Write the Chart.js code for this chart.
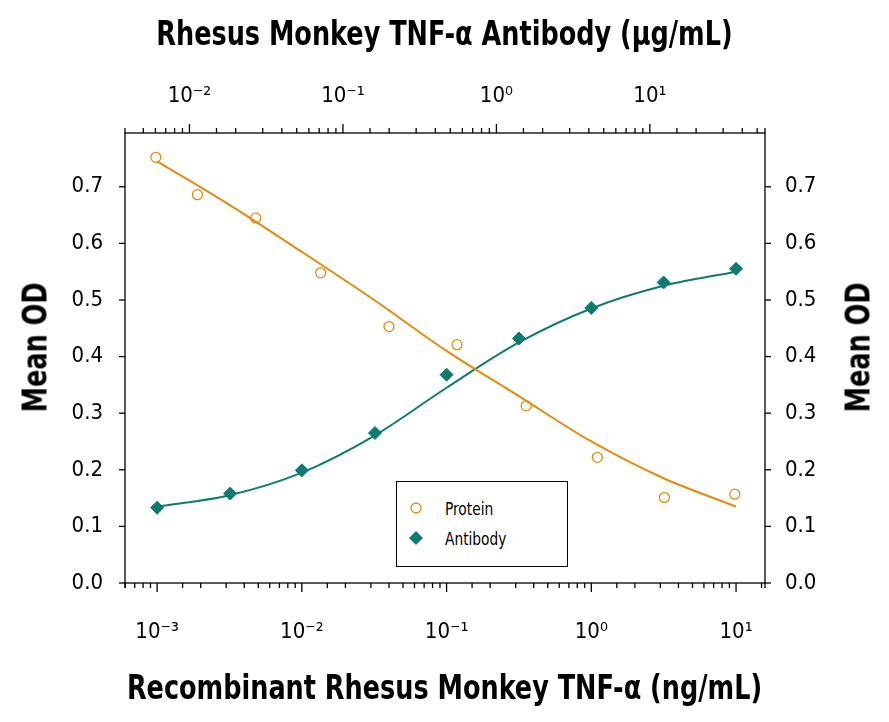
<!DOCTYPE html>
<html><head><meta charset="utf-8">
<script src="https://cdn.jsdelivr.net/npm/chart.js@4.4.1/dist/chart.umd.min.js"></script>
<style>
body{margin:0;background:#fff;width:889px;height:722px;overflow:hidden;position:relative;font-family:"Liberation Sans Narrow","DejaVu Sans Condensed",sans-serif;font-stretch:condensed}
#c{position:absolute;left:0;top:0}
.t{position:absolute;font-weight:bold;font-size:33px;color:#000;white-space:nowrap}
.leg{position:absolute;left:396px;top:481px;width:170px;height:84px;border:1px solid #000;background:#fff;font-size:18px}
.leg div{position:absolute;left:48px;transform:scaleX(0.85);transform-origin:left center}
</style></head><body>
<canvas id="c" width="889" height="722"></canvas>
<div class="t" style="left:0;width:889px;text-align:center;top:14px;transform:scaleX(0.86)">Rhesus Monkey TNF-α Antibody (μg/mL)</div>
<div class="t" style="left:0;width:889px;text-align:center;top:668px;transform:scaleX(0.86)">Recombinant Rhesus Monkey TNF-α (ng/mL)</div>
<div class="t" style="left:-30px;top:337px;transform:rotate(-90deg) scaleX(0.86);width:130px;text-align:center">Mean OD</div>
<div class="t" style="left:793px;top:337px;transform:rotate(-90deg) scaleX(0.86);width:130px;text-align:center">Mean OD</div>
<div class="leg">
<svg style="position:absolute;left:12px;top:19px" width="14" height="14"><circle cx="7" cy="7" r="5" fill="none" stroke="#E8890C" stroke-width="1.3"/></svg>
<div style="top:16px">Protein</div>
<svg style="position:absolute;left:11px;top:48px" width="16" height="16"><polygon points="8,1 15,8 8,15 1,8" fill="#0E7B73"/></svg>
<div style="top:46px">Antibody</div>
</div>
<script>
const proteinX=[0.00098,0.0019,0.0048,0.0135,0.04,0.118,0.355,1.1,3.2,9.8];
const proteinY=[0.752,0.686,0.645,0.548,0.453,0.421,0.313,0.222,0.151,0.157];
const antibodyX=[0.001,0.0032,0.01,0.032,0.1,0.316,1,3.16,10];
const antibodyY=[0.133,0.158,0.199,0.265,0.368,0.432,0.486,0.531,0.555];
const proteinFitX=[0.001,0.00316,0.01,0.0316,0.1,0.316,1,3.16,10];
const proteinFitY=[0.745,0.668,0.585,0.50,0.41,0.33,0.25,0.185,0.135];
const antibodyFitX=[0.001,0.00316,0.01,0.0316,0.1,0.316,1,3.16,10];
const antibodyFitY=[0.135,0.155,0.195,0.26,0.345,0.425,0.485,0.525,0.55];
const yTicks=[0,0.1,0.2,0.3,0.4,0.5,0.6,0.7];
const ORANGE='#E8890C',TEAL='#0E7B73';
const pts=(xs,ys)=>xs.map((x,i)=>({x,y:ys[i]}));
const FONT='"Liberation Sans Narrow","DejaVu Sans Condensed",sans-serif';
const sup={'-':'⁻','0':'⁰','1':'¹','2':'²','3':'³'};
const powLabel=(v)=>{const l=Math.log10(v);if(Math.abs(l-Math.round(l))>1e-6)return '';return '10'+String(Math.round(l)).split('').map(c=>sup[c]).join('');};
const tickPlugin={id:'tk',afterDraw(ch){const c=ch.ctx,a=ch.chartArea;c.save();c.strokeStyle='#000';c.lineWidth=1.3;
 c.strokeRect(a.left,a.top,a.right-a.left,a.bottom-a.top);
 ['x','x2'].forEach(id=>{const s=ch.scales[id];s.ticks.forEach(t=>{const l=Math.log10(t.value);const maj=Math.abs(l-Math.round(l))<1e-6;const len=maj?9:5;const p=s.getPixelForValue(t.value);c.beginPath();if(id==='x'){c.moveTo(p,a.bottom);c.lineTo(p,a.bottom+len);}else{c.moveTo(p,a.top);c.lineTo(p,a.top-len);}c.stroke();});});
 ['y','y2'].forEach(id=>{const s=ch.scales[id];yTicks.forEach(v=>{const p=s.getPixelForValue(v);c.beginPath();if(id==='y'){c.moveTo(a.left,p);c.lineTo(a.left-6,p);}else{c.moveTo(a.right,p);c.lineTo(a.right+6,p);}c.stroke();});});
 c.restore();}};
new Chart(document.getElementById('c'),{
 type:'scatter',
 data:{datasets:[
  {data:pts(proteinFitX,proteinFitY),showLine:true,pointRadius:0,borderColor:ORANGE,borderWidth:2,cubicInterpolationMode:'monotone',fill:false},
  {data:pts(antibodyFitX,antibodyFitY),showLine:true,pointRadius:0,borderColor:TEAL,borderWidth:2,cubicInterpolationMode:'monotone',fill:false},
  {data:pts(proteinX,proteinY),pointStyle:'circle',pointRadius:5,borderColor:ORANGE,backgroundColor:'rgba(0,0,0,0)',borderWidth:1.3},
  {data:pts(antibodyX,antibodyY),pointStyle:'rectRot',pointRadius:6.5,borderColor:TEAL,backgroundColor:TEAL}
 ]},
 options:{responsive:false,animation:false,layout:{padding:0},
  plugins:{legend:{display:false},tooltip:{enabled:false}},
  scales:{
   x:{type:'logarithmic',position:'bottom',min:Math.pow(10,-3.22),max:Math.pow(10,1.2),grid:{display:false},border:{display:false},
      ticks:{autoSkip:false,maxRotation:0,padding:28,color:'#000',font:{family:FONT,size:22},callback:(v)=>{const l=Math.log10(v);return (l>=-3.01&&l<=1.01)?powLabel(v):'';}},
      afterFit:s=>{s.height=139;}},
   x2:{type:'logarithmic',position:'top',min:Math.pow(10,-2.42),max:Math.pow(10,1.75),grid:{display:false},border:{display:false},
      ticks:{autoSkip:false,maxRotation:0,padding:16,color:'#000',font:{family:FONT,size:22},callback:(v)=>powLabel(v)},
      afterFit:s=>{s.height=133;}},
   y:{position:'left',min:0,max:0.795,grid:{display:false},border:{display:false},
      afterBuildTicks:s=>{s.ticks=yTicks.map(v=>({value:v}));},
      ticks:{padding:14,color:'#000',font:{family:FONT,size:22},callback:v=>v.toFixed(1)},
      afterFit:s=>{s.width=125;}},
   y2:{position:'right',min:0,max:0.795,grid:{display:false},border:{display:false},
      afterBuildTicks:s=>{s.ticks=yTicks.map(v=>({value:v}));},
      ticks:{padding:12,color:'#000',font:{family:FONT,size:22},callback:v=>v.toFixed(1)},
      afterFit:s=>{s.width=124;}}
  }},
 plugins:[tickPlugin]
});
</script></body></html>
